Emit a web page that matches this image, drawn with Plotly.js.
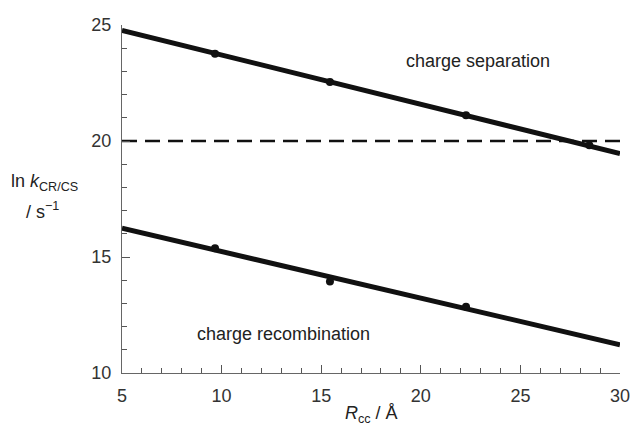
<!DOCTYPE html>
<html><head><meta charset="utf-8">
<script src="https://cdn.plot.ly/plotly-3.0.1.min.js"></script>
<style>html,body{margin:0;padding:0;background:#fff}#chart{width:630px;height:428px}</style>
</head><body><div id="chart"></div>
<script>
// measured points
const rcc = [9.67, 15.44, 22.27, 28.46];
const lnKcs = [23.76, 22.54, 21.11, 19.82];
const rccCr = [9.67, 15.44, 22.27];
const lnKcr = [15.38, 13.94, 12.86];
// linear fits (endpoints)
const fitX = [5, 30];
const fitCs = [24.77, 19.46];
const fitCr = [16.24, 11.22];
// reference level
const refX = [5, 30];
const refY = [20, 20];
const xTicks = [5, 10, 15, 20, 25, 30];
const yTicks = [10, 15, 20, 25];

const ink = '#111111';
const traces = [
  {x: refX, y: refY, mode: 'lines', line: {color: ink, width: 2.5, dash: '15px,8px'}, hoverinfo: 'skip'},
  {x: fitX, y: fitCs, mode: 'lines', line: {color: ink, width: 5}},
  {x: fitX, y: fitCr, mode: 'lines', line: {color: ink, width: 5}},
  {x: rcc, y: lnKcs, mode: 'markers', marker: {color: ink, size: 8}},
  {x: rccCr, y: lnKcr, mode: 'markers', marker: {color: ink, size: 8}}
];
const fam = 'Liberation Sans, Arial, sans-serif';
const layout = {
  width: 630, height: 428,
  margin: {l: 122, r: 10, t: 24.5, b: 54.7},
  showlegend: false,
  paper_bgcolor: '#fff', plot_bgcolor: '#fff',
  font: {family: fam, size: 18, color: '#333'},
  xaxis: {range: [5, 30], tickvals: xTicks, ticks: 'inside', ticklen: 8, tickcolor: '#555', tickwidth: 1,
    showline: true, linecolor: '#666', linewidth: 1, showgrid: false, zeroline: false,
    minor: {dtick: 1, ticks: 'inside', ticklen: 5, tickcolor: '#555', showgrid: false},
    tickfont: {family: fam, size: 18, color: '#333'}, ticklabelstandoff: 6, ticklabeloverflow: 'allow'},
  yaxis: {range: [10, 25], tickvals: yTicks, ticks: 'inside', ticklen: 8, tickcolor: '#555', tickwidth: 1,
    showline: true, linecolor: '#666', linewidth: 1, showgrid: false, zeroline: false,
    minor: {dtick: 1, ticks: 'inside', ticklen: 5, tickcolor: '#555', showgrid: false},
    tickfont: {family: fam, size: 18, color: '#333'}, ticklabelstandoff: 6, ticklabeloverflow: 'allow'},
  annotations: [
    {xref: 'x', yref: 'y', x: 22.87, y: 23.47, text: 'charge separation', showarrow: false, font: {family: fam, size: 18, color: '#222'}},
    {xref: 'x', yref: 'y', x: 13.13, y: 11.69, text: 'charge recombination', showarrow: false, font: {family: fam, size: 18, color: '#222'}},
    {xref: 'paper', yref: 'paper', x: -0.1566, y: 0.548, xanchor: 'center', yanchor: 'middle', text: 'ln <i>k</i><sub>CR/CS</sub>', showarrow: false, font: {family: fam, size: 18, color: '#222'}},
    {xref: 'paper', yref: 'paper', x: -0.1606, y: 0.468, xanchor: 'center', yanchor: 'middle', text: '/ s<sup>−1</sup>', showarrow: false, font: {family: fam, size: 18, color: '#222'}},
    {xref: 'paper', yref: 'paper', x: 0.5, y: -0.12, xanchor: 'center', yanchor: 'middle', text: '<i>R</i><sub>cc</sub> / Å', showarrow: false, font: {family: fam, size: 18, color: '#222'}}
  ]
};
Plotly.newPlot('chart', traces, layout, {staticPlot: true, displayModeBar: false});
</script></body></html>
